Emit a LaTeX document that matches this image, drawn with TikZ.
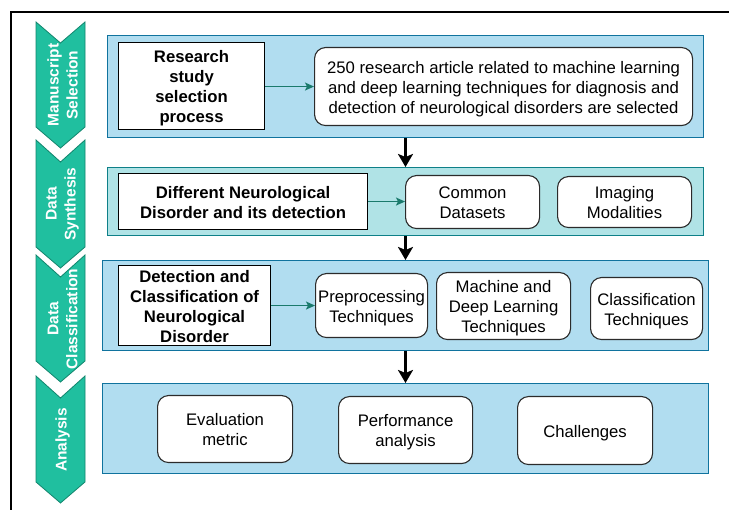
\documentclass[tikz,border=0pt]{standalone}
\usepackage{fontspec}
\setmainfont{Liberation Sans}
\usetikzlibrary{arrows.meta}
\definecolor{panelblue}{HTML}{B1DDF0}
\definecolor{panelblueline}{HTML}{10739E}
\definecolor{panelteal}{HTML}{B0E3E6}
\definecolor{paneltealline}{HTML}{0E8088}
\definecolor{chevfill}{HTML}{20BF9F}
\definecolor{chevline}{HTML}{11846C}
\definecolor{linkteal}{HTML}{1A7A6C}
\definecolor{boxline}{HTML}{2B2B2B}

\begin{document}
\begin{tikzpicture}[x=1pt,y=-1pt,
  bodyfont/.style={font=\fontsize{16.7}{20}\selectfont},
  panel/.style={draw=panelblueline, fill=panelblue, line width=1pt,
    anchor=north west, inner sep=0pt},
  tealpanel/.style={panel, draw=paneltealline, fill=panelteal},
  % text blocks sized as full 20pt line boxes
  l1/.style={text height=16.5pt, text depth=3.5pt},
  l2/.style={text height=36.5pt, text depth=3.5pt},
  l3/.style={text height=56.5pt, text depth=3.5pt},
  l4/.style={text height=76.5pt, text depth=3.5pt},
  textbox/.style={anchor=north west, inner sep=0pt, align=center},
  headbox/.style={textbox, draw=black, fill=white, line width=1.1pt,
    font=\fontsize{16.7}{20}\selectfont\bfseries},
  itembox/.style={textbox, draw=boxline, fill=white, line width=1.1pt,
    rounded corners=11pt, bodyfont},
  stagelabel/.style={text=white, rotate=90, align=center,
    font=\fontsize{15.5}{19}\selectfont\bfseries},
  chevron/.style={fill=chevfill, draw=chevline, line width=0.8pt},
  link/.style={draw=linkteal, line width=1.3pt,
    -{Stealth[length=9pt,width=8pt,inset=2pt]}},
  flow/.style={draw=black, line width=3pt,
    -{Stealth[length=13pt,width=15pt,inset=3pt]}}
]
\useasboundingbox (0,0) rectangle (729,510);

% outer frame
\draw[line width=1.8pt] (11,510) -- (11,12) -- (729,12);

% stage chevrons
\foreach \t/\n/\b/\p in {22/43/127/148, 140/162/247/268, 255/277/361/382, 376/398/482/503}{
  \draw[chevron] (36,\t) -- (60.5,\n) -- (85,\t) -- (85,\b) -- (60.5,\p) -- (36,\b) -- cycle;
}
\node[stagelabel] (s1) at (62.5,85) {Manuscript\\Selection};
\node[stagelabel] (s2) at (62.5,204) {Data\\Synthesis};
\node[stagelabel] (s3) at (62.5,319) {Data\\Classification};
\node[stagelabel] (s4) at (62.5,440) {Analysis};

% stage panels
\node[panel, minimum width=596pt, minimum height=102pt] (p1) at (107,35) {};
\node[tealpanel, minimum width=596pt, minimum height=68pt] (p2) at (107,167) {};
\node[panel, minimum width=606pt, minimum height=90pt] (p3) at (102,260) {};
\node[panel, minimum width=606pt, minimum height=90pt] (p4) at (102,383) {};

% manuscript selection
\node[headbox, l4, minimum width=146pt, minimum height=87pt] (b1) at (118,42)
  {Research\\study\\selection\\process};
\node[itembox, l3, minimum width=378pt, minimum height=78pt] (b2) at (314,47)
  {250 research article related to machine learning\\and deep learning techniques for diagnosis and\\detection of neurological disorders are selected};

% data synthesis
\node[headbox, l2, minimum width=249pt, minimum height=56pt] (b3) at (118,173)
  {Different Neurological\\Disorder and its detection};
\node[itembox, l2, minimum width=134pt, minimum height=53pt] (b4) at (405,175)
  {Common\\Datasets};
\node[itembox, l2, minimum width=134pt, minimum height=51pt] (b5) at (557,176)
  {Imaging\\Modalities};

% data classification
\node[headbox, l4, minimum width=152pt, minimum height=79pt] (b6) at (118,265)
  {Detection and\\Classification of\\Neurological\\Disorder};
\node[itembox, l2, minimum width=112pt, minimum height=64pt] (b7) at (315,273)
  {Preprocessing\\Techniques};
\node[itembox, l3, minimum width=134pt, minimum height=67pt] (b8) at (436,272)
  {Machine and\\Deep Learning\\Techniques};
\node[itembox, l2, minimum width=112pt, minimum height=62pt] (b9) at (590,277)
  {Classification\\Techniques};

% analysis
\node[itembox, l2, minimum width=135pt, minimum height=67pt] (b10) at (157,395)
  {Evaluation\\metric};
\node[itembox, l2, minimum width=134pt, minimum height=67pt] (b11) at (338,396)
  {Performance\\analysis};
\node[itembox, l1, minimum width=135pt, minimum height=68pt] (b12) at (517,396)
  {Challenges};

% connectors
\draw[link] (b1.east |- b2.west) -- (b2.west);
\draw[link] (b3.east) -- (b4.west |- b3.east);
\draw[link] (b6.east) -- (b7.west |- b6.east);

\draw[flow] (p1.south) -- (p2.north);
\draw[flow] (p2.south) -- (p3.north);
\draw[flow] (p3.south) -- (p4.north);
\end{tikzpicture}
\end{document}
